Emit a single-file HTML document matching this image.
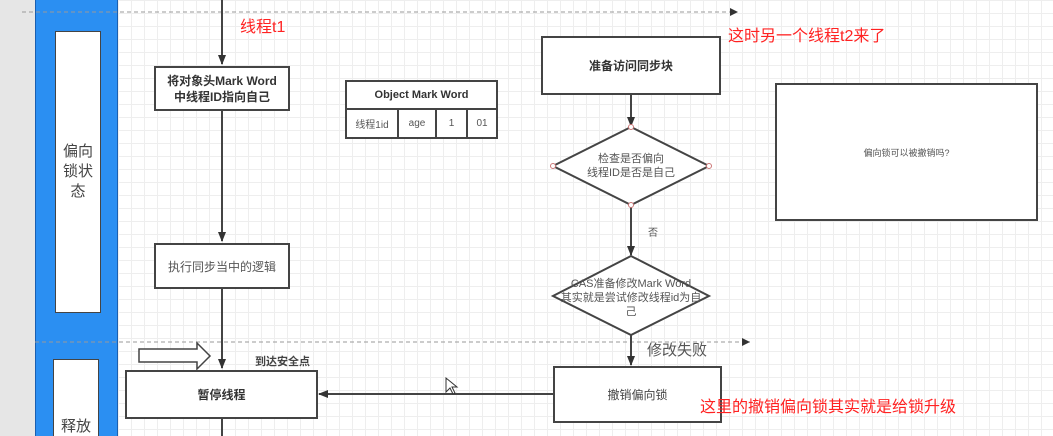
<!DOCTYPE html>
<html style="overflow:hidden"><head><meta charset="utf-8"><style>
html,body{margin:0;width:1053px;height:436px;overflow:hidden}
body{position:relative;background:#fff;font-family:"Liberation Sans","Noto Sans CJK SC",sans-serif}
.grid{position:absolute;left:118px;top:0;width:935px;height:436px;background-image:linear-gradient(#eeeeee 1px,transparent 1px),linear-gradient(90deg,#eeeeee 1px,transparent 1px);background-size:13px 13px}
.b{position:absolute;background:#fff;border:2px solid #444;box-sizing:border-box;display:flex;align-items:center;justify-content:center;text-align:center;font-size:12px;color:#333}
.t{position:absolute;white-space:nowrap}
</style></head><body>
<div style="position:absolute;left:0;top:0;width:35px;height:436px;background:#e6e6e6"></div>
<div class="grid"></div>
<div style="position:absolute;left:35px;top:0;width:83px;height:436px;background:#2b8ff2;border-left:1px solid #1a5fb0;border-right:1px solid #1a5fb0;box-sizing:border-box"></div>
<div class="b" style="left:55px;top:31px;width:46px;height:282px;border-width:1px;font-size:15px;line-height:20px;color:#444">偏向<br>锁状<br>态</div>
<div class="b" style="left:53px;top:359px;width:46px;height:77px;border-width:1px;border-bottom:none;font-size:15px;align-items:flex-end;padding-bottom:0;color:#444">释放</div>
<svg style="position:absolute;left:0;top:0" width="1053" height="436">
<defs><marker id="a" markerWidth="10" markerHeight="10" refX="9" refY="5" orient="auto" markerUnits="userSpaceOnUse"><path d="M0,1 L10,5 L0,9z" fill="#333"/></marker></defs>
<line x1="22" y1="12" x2="737" y2="12" stroke="#999" stroke-dasharray="4,3"/>
<path d="M730,8 L738,12 L730,16z" fill="#333"/>
<line x1="35" y1="342" x2="750" y2="342" stroke="#999" stroke-dasharray="4,3"/>
<path d="M742,338 L750,342 L742,346z" fill="#333"/>
<g stroke="#444" stroke-width="2" fill="none">
<line x1="222" y1="0" x2="222" y2="64" marker-end="url(#a)"/>
<line x1="222" y1="110" x2="222" y2="241" marker-end="url(#a)"/>
<line x1="222" y1="288" x2="222" y2="368" marker-end="url(#a)"/>
<line x1="222" y1="418" x2="222" y2="436"/>
<line x1="631" y1="94" x2="631" y2="126" marker-end="url(#a)"/>
<line x1="631" y1="205" x2="631" y2="255" marker-end="url(#a)"/>
<line x1="631" y1="335" x2="631" y2="365" marker-end="url(#a)"/>
<line x1="553" y1="394" x2="319" y2="394" marker-end="url(#a)"/>
<path d="M631,127 L709,166 L631,205 L553,166Z" fill="#fff"/>
<path d="M631,256 L709,296 L631,335 L553,296Z" fill="#fff"/>
</g>
<g fill="#fff" stroke="#c77">
<circle cx="631" cy="127" r="2.5"/><circle cx="709" cy="166" r="2.5"/><circle cx="631" cy="205" r="2.5"/><circle cx="553" cy="166" r="2.5"/></g>
<path d="M139,349 L197,349 L197,343 L210,356 L197,369 L197,362 L139,362Z" fill="#fff" stroke="#444" stroke-width="1.5"/>
<path d="M446,378 L446,392 L450,388 L453,394 L455,393 L452,387 L457,387Z" fill="#fff" stroke="#333"/>
</svg>
<div class="b" style="left:154px;top:66px;width:136px;height:45px;font-weight:bold;line-height:16px">将对象头Mark Word<br>中线程ID指向自己</div>
<div class="b" style="left:154px;top:243px;width:136px;height:46px;color:#555">执行同步当中的逻辑</div>
<div class="b" style="left:125px;top:370px;width:193px;height:49px;font-weight:bold">暂停线程</div>
<div class="b" style="left:541px;top:36px;width:180px;height:59px;font-weight:bold">准备访问同步块</div>
<div class="b" style="left:553px;top:366px;width:169px;height:57px;color:#444">撤销偏向锁</div>
<div class="b" style="left:775px;top:83px;width:263px;height:138px;font-size:9px;color:#555">偏向锁可以被撤销吗?</div>
<div class="b" style="left:345px;top:80px;width:153px;height:30px;font-weight:bold;font-size:11px">Object Mark Word</div>
<div class="b" style="left:345px;top:108px;width:54px;height:31px;font-size:10px;color:#555">线程1id</div>
<div class="b" style="left:397px;top:108px;width:40px;height:31px;font-size:10px;color:#555">age</div>
<div class="b" style="left:435px;top:108px;width:33px;height:31px;font-size:10px;color:#555">1</div>
<div class="b" style="left:466px;top:108px;width:32px;height:31px;font-size:10px;color:#555">01</div>
<div class="t" style="left:585px;top:152px;width:92px;text-align:center;font-size:11px;line-height:14px;color:#555">检查是否偏向<br>线程ID是否是自己</div>
<div class="t" style="left:553px;top:277px;width:156px;text-align:center;font-size:11px;line-height:14px;color:#555">CAS准备修改Mark Word<br>其实就是尝试修改线程id为自<br>己</div>
<div class="t" style="left:648px;top:224px;font-size:10px;color:#555">否</div>
<div class="t" style="left:647px;top:339px;font-size:15px;color:#555">修改失败</div>
<div class="t" style="left:255px;top:353px;font-size:11px;font-weight:bold;color:#444">到达安全点</div>
<div class="t" style="left:240px;top:13px;font-size:16px;color:#f22">线程t1</div>
<div class="t" style="left:728px;top:22px;font-size:16px;color:#f22">这时另一个线程t2来了</div>
<div class="t" style="left:700px;top:393px;font-size:16px;color:#f22">这里的撤销偏向锁其实就是给锁升级</div>
</body></html>
